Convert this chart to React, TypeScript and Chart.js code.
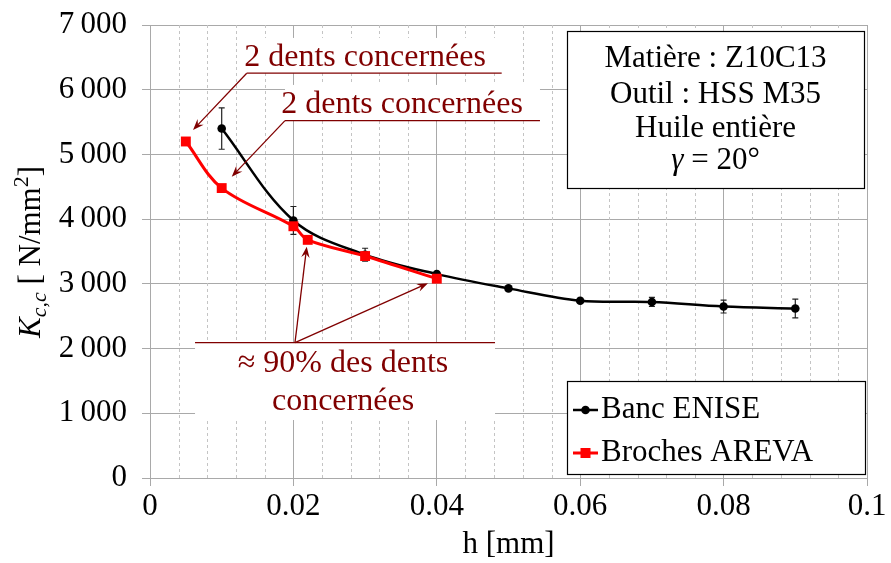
import React, { useEffect, useRef } from "react";
import { Chart, registerables } from "chart.js";

Chart.register(...registerables);

// ---------- data ----------
const enisePositions = [0.01, 0.02, 0.03, 0.04, 0.05, 0.06, 0.07, 0.08, 0.09];
const eniseValues = [5400, 3980, 3450, 3150, 2930, 2740, 2720, 2650, 2620];
const eniseErrors = [320, 215, 100, 0, 0, 0, 70, 100, 145];

const arevaPositions = [0.005, 0.01, 0.02, 0.022, 0.03, 0.04];
const arevaValues = [5200, 4480, 3890, 3680, 3430, 3080];

const xTickLabels = ["0", "0.02", "0.04", "0.06", "0.08", "0.1"];
const yTickLabels = ["0", "1\u2009000", "2\u2009000", "3\u2009000", "4\u2009000", "5\u2009000", "6\u2009000", "7\u2009000"];

const seriesNames = ["Banc ENISE", "Broches AREVA"];
const infoLines = ["Matière : Z10C13", "Outil : HSS M35", "Huile entière"];
const noteText = "2 dents concernées";
const bottomNoteLines = ["≈ 90% des dents", "concernées"];

// annotation anchors in data units [x, y]
const note1 = { text: [0.0300, 6368], line: [0.01349, 0.04905, 6255], tip: [0.0060, 5379], boxTop: 6800 };
const note2 = { text: [0.03515, 5641], line: [0.01883, 0.05439, 5522], tip: [0.0114, 4657], boxTop: 6074 };
const note3 = {
  line: [0.00628, 0.04812, 2091],
  from: 0.02022,
  tips: [[0.02186, 3575], [0.03877, 3009]],
  textX: 0.02692,
  baselines: [1638, 1051],
  boxBottom: 896,
};

const FONT = "'Liberation Serif', 'Times New Roman', serif";
const DARKRED = "#800000";
const GRID = "#a9a9a9";

function arrow(ctx: CanvasRenderingContext2D, x1: number, y1: number, x2: number, y2: number) {
  const ang = Math.atan2(y2 - y1, x2 - x1);
  const L = 11, W = 4.2;
  ctx.beginPath();
  ctx.moveTo(x1, y1);
  ctx.lineTo(x2 - Math.cos(ang) * L * 0.6, y2 - Math.sin(ang) * L * 0.6);
  ctx.stroke();
  ctx.save();
  ctx.translate(x2, y2);
  ctx.rotate(ang);
  ctx.beginPath();
  ctx.moveTo(0, 0);
  ctx.lineTo(-L, -W);
  ctx.lineTo(-L * 0.65, 0);
  ctx.lineTo(-L, W);
  ctx.closePath();
  ctx.fill();
  ctx.restore();
}

const overlay = {
  id: "overlay",
  beforeDatasetsDraw(chart: any) {
    const { ctx, chartArea: a, scales } = chart;
    const x = scales.x, y = scales.y;
    ctx.save();
    // minor dashed vertical grid
    ctx.strokeStyle = "#c4c4c4";
    ctx.lineWidth = 1;
    ctx.setLineDash([3, 3]);
    for (let i = 1; i < 25; i++) {
      if (i % 5 === 0) continue;
      const px = Math.round(x.getPixelForValue(i * 0.004)) + 0.5;
      ctx.beginPath();
      ctx.moveTo(px, a.top);
      ctx.lineTo(px, a.bottom);
      ctx.stroke();
    }
    ctx.setLineDash([]);
    // error bars
    ctx.strokeStyle = "#222";
    ctx.lineWidth = 1.2;
    enisePositions.forEach((p, i) => {
      const e = eniseErrors[i];
      if (!e) return;
      const px = x.getPixelForValue(p);
      const y1 = y.getPixelForValue(eniseValues[i] + e);
      const y2 = y.getPixelForValue(eniseValues[i] - e);
      ctx.beginPath();
      ctx.moveTo(px, y1); ctx.lineTo(px, y2);
      ctx.moveTo(px - 3, y1); ctx.lineTo(px + 3, y1);
      ctx.moveTo(px - 3, y2); ctx.lineTo(px + 3, y2);
      ctx.stroke();
    });
    ctx.restore();
  },
  afterDatasetsDraw(chart: any) {
    const { ctx, chartArea: a, scales } = chart;
    const x = scales.x, y = scales.y;
    const X = (v: number) => x.getPixelForValue(v);
    const Y = (v: number) => y.getPixelForValue(v);
    ctx.save();

    // ---------- annotations ----------
    ctx.fillStyle = "#fff";
    ctx.fillRect(X(note1.line[0]), Y(note1.boxTop), X(note1.line[1]) - X(note1.line[0]), Y(note1.line[2]) - Y(note1.boxTop));
    ctx.fillRect(X(note2.line[0]), Y(note2.boxTop), X(note2.line[1]) - X(note2.line[0]), Y(note2.line[2]) - Y(note2.boxTop));
    ctx.fillRect(X(note3.line[0]), Y(note3.line[2]), X(note3.line[1]) - X(note3.line[0]), Y(note3.boxBottom) - Y(note3.line[2]));

    ctx.strokeStyle = DARKRED;
    ctx.fillStyle = DARKRED;
    ctx.lineWidth = 1.3;
    for (const n of [note1, note2]) {
      const ly = Y(n.line[2]);
      ctx.beginPath();
      ctx.moveTo(X(n.line[0]), ly);
      ctx.lineTo(X(n.line[1]), ly);
      ctx.stroke();
      arrow(ctx, X(n.line[0]), ly, X(n.tip[0]), Y(n.tip[1]));
    }
    const l3 = Y(note3.line[2]);
    ctx.beginPath();
    ctx.moveTo(X(note3.line[0]), l3);
    ctx.lineTo(X(note3.line[1]), l3);
    ctx.stroke();
    for (const t of note3.tips) arrow(ctx, X(note3.from), l3, X(t[0]), Y(t[1]));

    ctx.font = `32px ${FONT}`;
    ctx.textAlign = "center";
    ctx.textBaseline = "alphabetic";
    ctx.fillText(noteText, X(note1.text[0]), Y(note1.text[1]));
    ctx.fillText(noteText, X(note2.text[0]), Y(note2.text[1]));
    ctx.fillText(bottomNoteLines[0], X(note3.textX), Y(note3.baselines[0]));
    ctx.fillText(bottomNoteLines[1], X(note3.textX), Y(note3.baselines[1]));

    // ---------- info box ----------
    const bx = a.right - 300, by = a.top + 6, bw = 297, bh = 157;
    ctx.fillStyle = "#fff";
    ctx.fillRect(bx, by, bw, bh);
    ctx.strokeStyle = "#000";
    ctx.lineWidth = 1.2;
    ctx.strokeRect(bx + 0.5, by + 0.5, bw, bh);
    ctx.fillStyle = "#000";
    ctx.font = `31px ${FONT}`;
    const cx = bx + bw / 2;
    ctx.fillText(infoLines[0], cx, by + 36);
    ctx.fillText(infoLines[1], cx, by + 72);
    ctx.fillText(infoLines[2], cx, by + 106);
    // gamma line
    ctx.textAlign = "left";
    ctx.font = `italic 31px ${FONT}`;
    const gW = ctx.measureText("γ").width;
    ctx.font = `31px ${FONT}`;
    const rest = " = 20°";
    const rW = ctx.measureText(rest).width;
    const gx = cx - (gW + rW) / 2;
    ctx.font = `italic 31px ${FONT}`;
    ctx.fillText("γ", gx, by + 138);
    ctx.font = `31px ${FONT}`;
    ctx.fillText(rest, gx + gW, by + 138);

    // ---------- legend ----------
    const lx = a.right - 300, ly = a.bottom - 97, lw = 298, lh = 93;
    ctx.fillStyle = "#fff";
    ctx.fillRect(lx, ly, lw, lh);
    ctx.strokeStyle = "#000";
    ctx.lineWidth = 1.2;
    ctx.strokeRect(lx + 0.5, ly + 0.5, lw, lh);
    const s1 = ly + 29, s2 = ly + 72;
    ctx.strokeStyle = "#000";
    ctx.lineWidth = 2.5;
    ctx.beginPath(); ctx.moveTo(lx + 6, s1); ctx.lineTo(lx + 31, s1); ctx.stroke();
    ctx.fillStyle = "#000";
    ctx.beginPath(); ctx.arc(lx + 18.5, s1, 4.3, 0, Math.PI * 2); ctx.fill();
    ctx.strokeStyle = "#ff0000";
    ctx.lineWidth = 3;
    ctx.beginPath(); ctx.moveTo(lx + 6, s2); ctx.lineTo(lx + 31, s2); ctx.stroke();
    ctx.fillStyle = "#ff0000";
    ctx.fillRect(lx + 18.5 - 5, s2 - 5, 10, 10);
    ctx.fillStyle = "#000";
    ctx.font = `31px ${FONT}`;
    ctx.fillText(seriesNames[0], lx + 34, ly + 37);
    ctx.fillText(seriesNames[1], lx + 34, ly + 80);

    // ---------- axis titles ----------
    ctx.textAlign = "center";
    ctx.fillText("h [mm]", (a.left + a.right) / 2, 553);

    const parts = [
      { t: "K", f: `italic 31px ${FONT}`, dy: 0 },
      { t: "c,c", f: `italic 22px ${FONT}`, dy: 6 },
      { t: " [ N/mm", f: `31px ${FONT}`, dy: 0 },
      { t: "2", f: `22px ${FONT}`, dy: -12 },
      { t: "]", f: `31px ${FONT}`, dy: 0 },
    ];
    ctx.textAlign = "left";
    let total = 0;
    const widths = parts.map((p) => { ctx.font = p.f; const w = ctx.measureText(p.t).width; total += w; return w; });
    ctx.translate(40, 252);
    ctx.rotate(-Math.PI / 2);
    let cxp = -total / 2;
    parts.forEach((p, i) => {
      ctx.font = p.f;
      ctx.fillText(p.t, cxp, p.dy);
      cxp += widths[i];
    });
    ctx.restore();
  },
};

export default function App() {
  const ref = useRef<HTMLCanvasElement | null>(null);
  useEffect(() => {
    document.body.style.margin = "0";
    const canvas = ref.current!;
    const chart = new Chart(canvas, {
      type: "scatter",
      data: {
        datasets: [
          {
            label: seriesNames[0],
            data: enisePositions.map((p, i) => ({ x: p, y: eniseValues[i] })),
            showLine: true,
            borderColor: "#000",
            backgroundColor: "#000",
            borderWidth: 2.5,
            pointRadius: 4.3,
            pointStyle: "circle",
            pointBorderWidth: 0,
            tension: 0.35,
            order: 2,
          },
          {
            label: seriesNames[1],
            data: arevaPositions.map((p, i) => ({ x: p, y: arevaValues[i] })),
            showLine: true,
            borderColor: "#ff0000",
            backgroundColor: "#ff0000",
            borderWidth: 3,
            pointRadius: 7,
            pointStyle: "rect",
            pointBorderWidth: 0,
            tension: 0.35,
            order: 1,
          },
        ],
      },
      options: {
        animation: false,
        responsive: false,
        devicePixelRatio: 1,
        layout: { padding: { top: 25, right: 24, left: 0, bottom: 0 } },
        plugins: { legend: { display: false }, tooltip: { enabled: false }, title: { display: false } },
        scales: {
          x: {
            type: "linear",
            min: 0,
            max: 0.1,
            ticks: {
              stepSize: 0.02,
              color: "#000",
              font: { family: FONT, size: 31 },
              padding: 2,
              maxRotation: 0,
              callback: (_v: any, i: number) => xTickLabels[i],
            },
            grid: { color: GRID, lineWidth: 1, tickLength: 8 },
            border: { color: GRID, width: 1 },
            afterFit: (s: any) => { s.height = 85; s.paddingLeft = 0; s.paddingRight = 0; },
          },
          y: {
            type: "linear",
            min: 0,
            max: 7000,
            ticks: {
              stepSize: 1000,
              color: "#000",
              font: { family: FONT, size: 31 },
              padding: 15,
              callback: (_v: any, i: number) => yTickLabels[i],
            },
            grid: { color: GRID, lineWidth: 1, tickLength: 8 },
            border: { color: GRID, width: 1 },
            afterFit: (s: any) => { s.width = 150; s.paddingTop = 0; s.paddingBottom = 0; },
          },
        },
      },
      plugins: [overlay],
    } as any);
    return () => chart.destroy();
  }, []);
  return (
    <div style={{ position: "absolute", left: 0, top: 0, width: 891, height: 563, background: "#fff" }}>
      <canvas ref={ref} width={891} height={563} />
    </div>
  );
}
